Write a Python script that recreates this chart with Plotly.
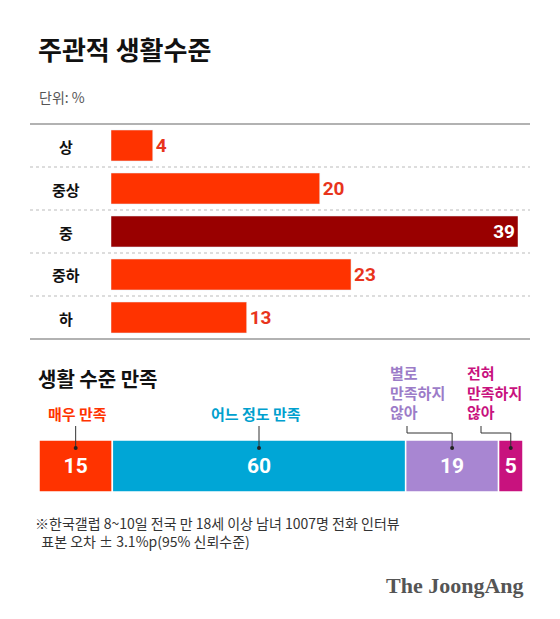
import plotly.graph_objects as go

levels = ['상', '중상', '중', '중하', '하']
level_vals = [4, 20, 39, 23, 13]
level_colors = ['#FF3300', '#FF3300', '#990000', '#FF3300', '#FF3300']

sat_labels = ['매우 만족', '어느 정도 만족', '별로<br>만족하지<br>않아', '전혀<br>만족하지<br>않아']
sat_vals = [15, 60, 19, 5]
sat_colors = ['#FF3300', '#00A6D6', '#A886D2', '#C8127E']

W, H = 560, 619
OFF = 8  # page body margin
def px(x): return (x - OFF) / W
def py(y): return 1 - (y - OFF) / H

fig = go.Figure()
fig.add_trace(go.Bar(
    y=levels, x=level_vals, orientation='h', marker_color=level_colors,
    width=0.72, text=['<b>%d</b>' % v for v in level_vals],
    textposition=['outside', 'outside', 'inside', 'outside', 'outside'],
    insidetextanchor='end',
    textfont=dict(family='Roboto', size=19, color=['#E8341C', '#E8341C', 'white', '#E8341C', '#E8341C']),
    cliponaxis=False, xaxis='x', yaxis='y', hoverinfo='skip'))

base = 0
for lab, v, c in zip(sat_labels, sat_vals, sat_colors):
    fig.add_trace(go.Bar(
        y=[0], x=[v], base=base, orientation='h', marker=dict(color=c, line=dict(color='white', width=1.5)),
        width=1, text='<b>%d</b>' % v, textposition='inside', insidetextanchor='middle',
        textfont=dict(family='Roboto', size=21, color='white'),
        xaxis='x2', yaxis='y2', hoverinfo='skip'))
    base += v

shapes = [
    dict(type='line', xref='paper', yref='paper', x0=px(30), x1=px(530), y0=py(124), y1=py(124), line=dict(color='#999', width=1.5)),
    dict(type='line', xref='paper', yref='paper', x0=px(30), x1=px(530), y0=py(339), y1=py(339), line=dict(color='#999', width=1.5)),
]
for k in range(1, 5):
    yy = 124 + 43 * k
    shapes.append(dict(type='line', xref='paper', yref='paper', x0=px(30), x1=px(530), y0=py(yy), y1=py(yy),
                       line=dict(color='#bbb', width=1, dash='dot')))

mids = []
b = 0
for v in sat_vals:
    mids.append(b + v / 2)
    b += v
dot_y = py(448)
line_style = dict(color='#333', width=1)
for i in (0, 1):
    shapes.append(dict(type='line', xref='x2', yref='paper', x0=mids[i], x1=mids[i], y0=py(426), y1=dot_y, line=line_style))
def to_x2(pix): return (pix - 39) / 484 * 99
for i, xstart in [(2, 407), (3, 481)]:
    xs = to_x2(xstart)
    shapes.append(dict(type='line', xref='x2', yref='paper', x0=xs, x1=xs, y0=py(426), y1=py(433), line=line_style))
    shapes.append(dict(type='line', xref='x2', yref='paper', x0=xs, x1=mids[i], y0=py(433), y1=py(433), line=line_style))
    shapes.append(dict(type='line', xref='x2', yref='paper', x0=mids[i], x1=mids[i], y0=py(433), y1=dot_y, line=line_style))
for i in range(4):
    shapes.append(dict(type='circle', xref='x2', yref='paper', xsizemode='pixel', ysizemode='pixel',
                       xanchor=mids[i], yanchor=dot_y, x0=-2, x1=2, y0=-2, y1=2, fillcolor='#222', line=dict(width=0)))

annotations = [
    dict(text='<b>주관적 생활수준</b>', x=px(36), y=py(48), font=dict(size=26, color='#111')),
    dict(text='단위: %', x=px(37), y=py(97), font=dict(size=14, color='#555')),
    dict(text='<b>생활 수준 만족</b>', x=px(36), y=py(378), font=dict(size=20, color='#111')),
    dict(text='<b>매우 만족</b>', x=px(77), y=py(413), xanchor='center', font=dict(size=15, color='#FF3300')),
    dict(text='<b>어느 정도 만족</b>', x=px(256), y=py(413), xanchor='center', font=dict(size=15, color='#00A0CE')),
    dict(text='<b>' + sat_labels[2].replace('<br>', '</b><br><b>') + '</b>', x=px(388), y=py(392), align='left', font=dict(size=15, color='#9C7CC8')),
    dict(text='<b>' + sat_labels[3].replace('<br>', '</b><br><b>') + '</b>', x=px(465), y=py(392), align='left', font=dict(size=15, color='#C8127E')),
    dict(text='※한국갤럽 8~10일 전국 만 18세 이상 남녀 1007명 전화 인터뷰<br>  표본 오차 ± 3.1%p(95% 신뢰수준)', x=px(33), y=py(532),
         align='left', font=dict(size=14, color='#333')),
    dict(text='<b>The JoongAng</b>', x=px(526), y=py(585), xanchor='right', font=dict(size=22, color='#555', family='Liberation Serif')),
]
for k, lev in enumerate(levels):
    annotations.append(dict(text='<b>%s</b>' % lev, x=px(66), y=py(146 + 43 * k), xanchor='center',
                            font=dict(size=15, color='#111')))
for a in annotations:
    a.setdefault('xanchor', 'left')
    a.update(xref='paper', yref='paper', showarrow=False, yanchor='middle')
    a['font'].setdefault('family', 'Noto Sans CJK KR')

fig.update_layout(
    width=W, height=H, margin=dict(l=0, r=0, t=0, b=0),
    paper_bgcolor='white', plot_bgcolor='white', showlegend=False, barmode='overlay',
    font=dict(family='Noto Sans CJK KR'),
    xaxis=dict(domain=[px(111), px(518)], range=[0, 39], visible=False, fixedrange=True),
    yaxis=dict(domain=[py(339), py(124)], range=[4.5, -0.5], anchor='x', visible=False),
    xaxis2=dict(domain=[px(39), px(523)], range=[0, 99], visible=False, anchor='y2'),
    yaxis2=dict(domain=[py(492), py(440)], range=[-0.5, 0.5], visible=False, anchor='x2'),
    shapes=shapes, annotations=annotations,
)
fig.write_html('out.html')
